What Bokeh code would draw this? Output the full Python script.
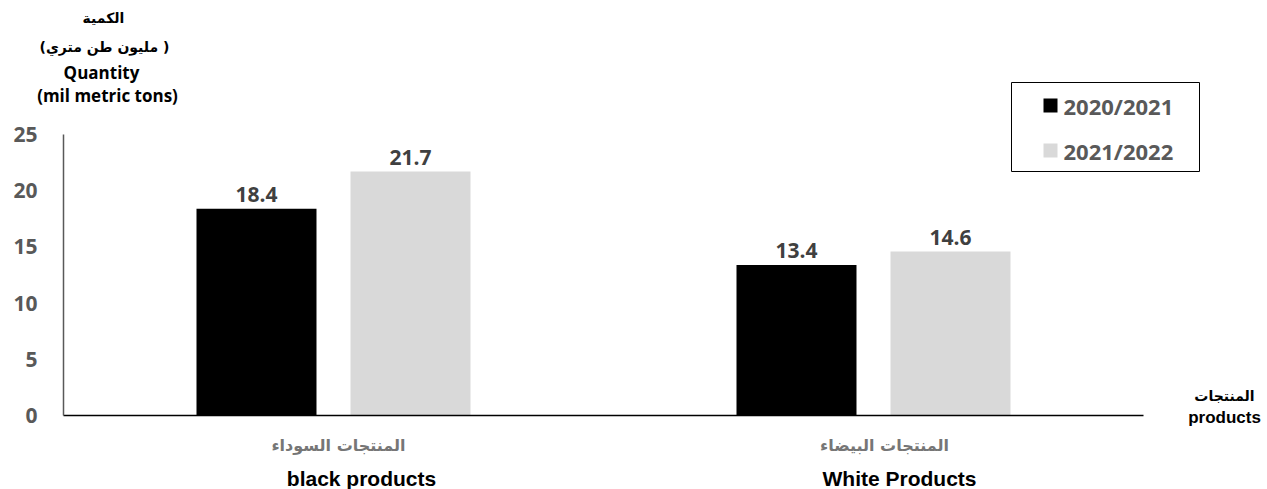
from bokeh.plotting import figure
from bokeh.models import Range1d, Label, FixedTicker, ColumnDataSource, LinearAxis
from bokeh.transform import dodge
from bokeh.core.properties import value
from bokeh.embed import file_html
from bokeh.resources import INLINE

# ---- data ----
categories_ar = ["المنتجات السوداء", "المنتجات البيضاء"]
categories_en = ["black products", "White Products"]
series = ["2020/2021", "2021/2022"]
values_2020_2021 = [18.4, 13.4]
values_2021_2022 = [21.7, 14.6]
y_ticks = [0, 5, 10, 15, 20, 25]
colors = ["#000000", "#d9d9d9"]

# ---- layout (page pixels) ----
W, H = 1267, 489
FRAME_LEFT = 32
LABEL_RIGHT = 37         # right edge of y tick labels
X0, Y0 = 63, 415         # page position of data (0, 0)
PX_X = 540.0             # pixels per category unit
PX_Y = 11.24             # pixels per unit of quantity

def dx(page_x):
    return (page_x - X0) / PX_X

def dy(page_y):
    return (Y0 - page_y) / PX_Y

p = figure(width=W, height=H, output_backend="svg", toolbar_location=None,
           x_range=Range1d(dx(FRAME_LEFT), dx(W)), y_range=Range1d(dy(H), dy(0)),
           min_border_left=FRAME_LEFT, min_border_right=0, min_border_top=0,
           min_border_bottom=0)
p.outline_line_color = None
p.xgrid.grid_line_color = None
p.ygrid.grid_line_color = None
p.background_fill_color = "white"
p.border_fill_color = "white"

# ---- y axis: tick labels ----
ya = p.yaxis[0]
ya.ticker = FixedTicker(ticks=y_ticks)
ya.axis_line_color = None
ya.major_tick_line_color = None
ya.minor_tick_line_color = None
ya.major_tick_out = 0
ya.major_tick_in = 0
ya.minor_tick_out = 0
ya.major_label_standoff = FRAME_LEFT - LABEL_RIGHT
ya.major_label_text_font = "Open Sans"
ya.major_label_text_font_style = "bold"
ya.major_label_text_font_size = "21px"
ya.major_label_text_color = "#595959"

# ---- y axis: line at x = 0 ----
yl = LinearAxis(ticker=FixedTicker(ticks=[]), fixed_location=0,
                bounds=(y_ticks[0], y_ticks[-1]),
                axis_line_color="#595959", axis_line_width=1.5,
                major_tick_line_color=None, minor_tick_line_color=None,
                major_tick_out=0, major_tick_in=0, minor_tick_out=0,
                major_label_standoff=0, major_label_text_font_size="0px")
p.add_layout(yl, "left")

# ---- x axis: line at y = 0 ----
xa = p.xaxis[0]
xa.ticker = FixedTicker(ticks=[])
xa.fixed_location = 0
xa.bounds = (0, len(categories_en))
xa.axis_line_color = "black"
xa.axis_line_width = 1.5
xa.major_tick_line_color = None
xa.minor_tick_line_color = None
xa.major_tick_out = 0
xa.major_tick_in = 0
xa.minor_tick_out = 0
xa.major_label_standoff = 0
xa.major_label_text_font_size = "0px"

# ---- bars ----
xs = [i + 0.5 for i in range(len(categories_en))]
src = ColumnDataSource(dict(
    x=xs, a=values_2020_2021, b=values_2021_2022,
    la=[f"{v:.1f}" for v in values_2020_2021],
    lb=[f"{v:.1f}" for v in values_2021_2022],
))
OFF = 0.1426
BW = 120 / PX_X
p.vbar(x=dodge("x", -OFF, range=p.x_range), top="a", width=BW, source=src,
       fill_color=colors[0], line_color=None)
p.vbar(x=dodge("x", OFF, range=p.x_range), top="b", width=BW, source=src,
       fill_color=colors[1], line_color=None)

for col, lab, off in (("a", "la", -OFF), ("b", "lb", OFF)):
    p.text(x=dodge("x", off, range=p.x_range), y=col, text=lab, source=src,
           text_align="center", text_baseline="alphabetic", y_offset=-14,
           text_font=value("Open Sans"), text_font_style="bold",
           text_font_size="21px", text_color="#404040")

# ---- category labels ----
ar_pos = [(338, 445), (884, 445)]
en_pos = [(361, 478), (899, 478)]
for t, (px, py) in zip(categories_ar, ar_pos):
    p.add_layout(Label(x=dx(px), y=dy(py), text=t, text_align="center",
                       text_baseline="middle", text_font="DejaVu Sans",
                       text_font_style="bold", text_font_size="16px",
                       text_color="#767676"))
for t, (px, py) in zip(categories_en, en_pos):
    p.add_layout(Label(x=dx(px), y=dy(py), text=t, text_align="center",
                       text_baseline="middle", text_font="Liberation Sans",
                       text_font_style="bold", text_font_size="21px",
                       text_color="#000000"))

# ---- axis titles ----
ytitle = [("الكمية", "DejaVu Sans", "14px", 103, 17),
          ("(مليون طن متري )", "DejaVu Sans", "14px", 104, 46),
          ("Quantity", "Open Sans", "17px", 101, 72),
          ("(mil metric tons)", "Open Sans", "17px", 107, 95)]
for t, f, s, px, py in ytitle:
    p.add_layout(Label(x=dx(px), y=dy(py), text=t, text_align="center",
                       text_baseline="middle", text_font=f,
                       text_font_style="bold", text_font_size=s,
                       text_color="#000000"))
xtitle = [("المنتجات", "DejaVu Sans", "14px", 395),
          ("products", "Liberation Sans", "17px", 417)]
for t, f, s, py in xtitle:
    p.add_layout(Label(x=dx(1224), y=dy(py), text=t, text_align="center",
                       text_baseline="middle", text_font=f,
                       text_font_style="bold", text_font_size=s,
                       text_color="#000000"))

# ---- legend (drawn manually) ----
p.rect(x=[dx(1105)], y=[dy(126.5)], width=188, height=89,
       width_units="screen", height_units="screen",
       fill_color="white", line_color="black", line_width=1)
leg = ColumnDataSource(dict(sx=[dx(1050)] * 2, tx=[dx(1063)] * 2,
                            y=[dy(105), dy(150)], c=colors, t=series))
p.rect(x="sx", y="y", width=14, height=14, width_units="screen",
       height_units="screen", fill_color="c", line_color=None, source=leg)
p.text(x="tx", y="y", text="t", source=leg, text_align="left",
       text_baseline="middle", text_font=value("Open Sans"),
       text_font_style="bold", text_font_size="22px", text_color="#595959")

open("out.html", "w").write(file_html(p, INLINE))
